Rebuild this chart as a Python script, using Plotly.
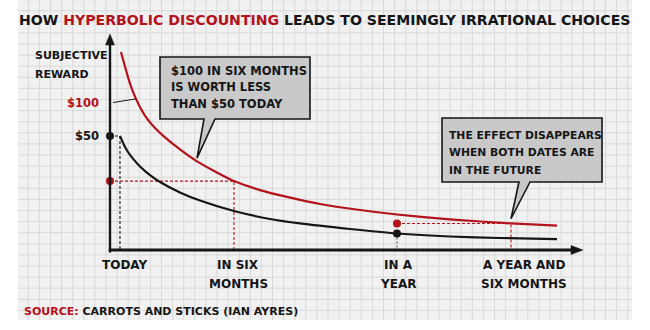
import plotly.graph_objects as go

W, H = 650, 330
FONT = "DejaVu Sans"
RED = "#b3121b"
INK = "#151515"
PAPER = "#f1f1f1"
GRID = "#d9d9d9"
BOX = "#c9c9c9"

# ---- data -------------------------------------------------------------
# time axis (arbitrary units, today near the origin)
tick_labels = [["TODAY"], ["IN SIX", "MONTHS"], ["IN A", "YEAR"], ["A YEAR AND", "SIX MONTHS"]]
tick_x = [2.92, 26.67, 60.0, 86.25]

# moments compared in the example
t_today = 2.08
t_six = 25.83
t_year = 59.79
t_year_six = 83.54

# perceived value of $100, as a function of time
red_t = [2.29, 2.92, 3.75, 4.58, 5.42, 6.46, 7.71, 9.38, 11.46, 14.58, 18.13, 21.88, 25.83,
         31.25, 36.88, 43.75, 52.08, 59.79, 70.83, 83.54, 93.13]
red_v = [92.5, 87.4, 80.8, 75.2, 70.6, 65.9, 61.4, 57.0, 52.6, 47.0, 41.4, 36.7, 32.2,
         28.0, 24.8, 21.5, 18.7, 16.6, 14.3, 12.4, 11.4]

# perceived value of $50, as a function of time
black_t = [2.08, 2.92, 3.75, 5.0, 6.25, 8.33, 10.42, 14.58, 18.75, 25.83,
           33.33, 39.58, 50.0, 59.79, 70.83, 81.25, 93.13]
black_v = [53.3, 49.1, 45.8, 42.1, 39.0, 35.0, 31.8, 26.9, 23.1, 18.2,
           14.5, 12.4, 9.8, 7.7, 6.3, 5.6, 5.1]

# reading points
v50_today = 53.3
v100_six = 32.2
v50_year = 7.7
v100_year_six = 12.4

# reward tick labels
y_tick_vals = [68.7, 53.3]
y_tick_text = ["$100", "$50"]
y_tick_color = [RED, INK]

# ---- geometry helpers -------------------------------------------------
X0, X1 = 110, 620          # plot area, pixels
Y0, Y1 = 30, 250
XR = [0, 106.25]
YR = [0, 102.8]


def pp(px, py):
    """pixel -> paper"""
    return px / W, 1 - py / H


def d2p(t, v):
    """data -> pixel"""
    px = X0 + (t - XR[0]) / (XR[1] - XR[0]) * (X1 - X0)
    py = Y1 - (v - YR[0]) / (YR[1] - YR[0]) * (Y1 - Y0)
    return px, py


def path(points):
    s = ""
    for i, (px, py) in enumerate(points):
        x, y = pp(px, py)
        s += ("M" if i == 0 else "L") + f"{x:.5f},{y:.5f} "
    return s + "Z"


fig = go.Figure()

dash_red = dict(color=RED, width=1.1, dash="3px,2px")
dash_ink = dict(color=INK, width=1.1, dash="3px,2px")
dash_grey = dict(color="#555555", width=1.1, dash="2px,2px")


def seg(xs, ys, line):
    fig.add_trace(go.Scatter(x=xs, y=ys, mode="lines", line=line,
                             showlegend=False, hoverinfo="skip", cliponaxis=False))


# guide lines
seg([0, t_today, t_today], [v50_today, v50_today, 0], dash_ink)
seg([0, t_six, t_six], [v100_six, v100_six, 0], dash_red)
seg([t_year, t_year], [v50_year, 0], dash_grey)
seg([t_year, t_year_six, t_year_six], [v100_year_six, v100_year_six, 0], dash_red)

# curves
fig.add_trace(go.Scatter(x=red_t, y=red_v, mode="lines",
                         line=dict(color=RED, width=2.2, shape="spline", smoothing=0.6),
                         showlegend=False, hoverinfo="skip"))
fig.add_trace(go.Scatter(x=black_t, y=black_v, mode="lines",
                         line=dict(color=INK, width=2.2, shape="spline", smoothing=0.6),
                         showlegend=False, hoverinfo="skip"))

# dots
fig.add_trace(go.Scatter(x=[0, t_year], y=[v50_today, v50_year], mode="markers",
                         marker=dict(color=INK, size=8, line=dict(width=0)), cliponaxis=False,
                         showlegend=False, hoverinfo="skip"))
fig.add_trace(go.Scatter(x=[0, t_year], y=[v100_six, v100_year_six], mode="markers",
                         marker=dict(color=RED, size=8, line=dict(width=0)), cliponaxis=False,
                         showlegend=False, hoverinfo="skip"))

shapes = []
# graph-paper sheet with its square grid
sx0, sy0 = pp(18, 320)
sx1, sy1 = pp(632, 0)
shapes.append(dict(type="rect", xref="paper", yref="paper", x0=sx0, y0=sy0, x1=sx1, y1=sy1,
                   fillcolor=PAPER, line=dict(width=0), layer="below"))
gx = 28.3
while gx < 632:
    a, _ = pp(gx, 0)
    shapes.append(dict(type="line", xref="paper", yref="paper", x0=a, x1=a, y0=sy0, y1=sy1,
                       line=dict(color=GRID, width=1), layer="below"))
    gx += 11.1
gy = 266 - 11.1 * 24
while gy < 320:
    _, b = pp(0, gy)
    shapes.append(dict(type="line", xref="paper", yref="paper", x0=sx0, x1=sx1, y0=b, y1=b,
                       line=dict(color=GRID, width=1), layer="below"))
    gy += 11.1

# axes with arrow heads
ox, oy = d2p(0, 0)
shapes.append(dict(type="path", xref="paper", yref="paper",
                   path=path([(ox - 1.2, oy + 2.5), (ox + 1.2, oy + 2.5), (ox + 1.2, 44), (ox - 1.2, 44)]),
                   fillcolor=INK, line=dict(width=0)))
shapes.append(dict(type="path", xref="paper", yref="paper",
                   path=path([(ox, 34), (ox - 4.5, 45), (ox + 4.5, 45)]),
                   fillcolor=INK, line=dict(color=INK, width=0.5)))
shapes.append(dict(type="path", xref="paper", yref="paper",
                   path=path([(ox - 1.2, oy - 1.4), (573, oy - 1.4), (573, oy + 1.4), (ox - 1.2, oy + 1.4)]),
                   fillcolor=INK, line=dict(width=0)))
shapes.append(dict(type="path", xref="paper", yref="paper",
                   path=path([(583, oy), (571, oy - 4.5), (571, oy + 4.5)]),
                   fillcolor=INK, line=dict(color=INK, width=0.5)))

# leader from the $100 label to the red curve
lx, ly = d2p(red_t[4], red_v[4])
ax0, ay0 = pp(113, 102.5)
ax1, ay1 = pp(lx, ly)
shapes.append(dict(type="line", xref="paper", yref="paper", x0=ax0, y0=ay0, x1=ax1, y1=ay1,
                   line=dict(color=INK, width=1)))

# speech bubbles
tip1 = d2p(red_t[10], red_v[10] + 1.5)
shapes.append(dict(type="path", xref="paper", yref="paper",
                   path=path([(160, 57), (310, 57), (310, 119), (215, 119), tip1, (204, 119), (160, 119)]),
                   fillcolor=BOX, line=dict(color=INK, width=1.6)))
tip2 = d2p(t_year_six, v100_year_six + 2.2)
shapes.append(dict(type="path", xref="paper", yref="paper",
                   path=path([(442, 118), (602, 118), (602, 182), (530, 182), tip2, (519, 182), (442, 182)]),
                   fillcolor=BOX, line=dict(color=INK, width=1.6)))

annotations = []


def text(px, py, s, size=11.5, color=INK, anchor="left"):
    x, y = pp(px, py)
    annotations.append(dict(xref="paper", yref="paper", x=x, y=y, text=s, showarrow=False,
                            xanchor=anchor, yanchor="middle",
                            font=dict(family=FONT, size=size, color=color, weight="bold")))


# title
text(324, 20, f"HOW <span style='color:{RED}'>HYPERBOLIC DISCOUNTING</span> "
              "LEADS TO SEEMINGLY IRRATIONAL CHOICES", size=14.1, anchor="center")

# axis titles and tick labels
text(33, 56, "SUBJECTIVE", size=11)
text(33, 74, "REWARD", size=11)
for v, s, c in zip(y_tick_vals, y_tick_text, y_tick_color):
    _, py = d2p(0, v)
    text(101, py, s, size=11.5, color=c, anchor="right")
for tx, lines in zip(tick_x, tick_labels):
    px, _ = d2p(tx, 0)
    for i, s in enumerate(lines):
        text(px, 265 + 19 * i, s, size=12, anchor="center")

# bubble texts
for i, s in enumerate(["$100 IN SIX MONTHS", "IS WORTH LESS", "THAN $50 TODAY"]):
    text(169, 70.7 + 16.7 * i, s, size=11.5)
for i, s in enumerate(["THE EFFECT DISAPPEARS", "WHEN BOTH DATES ARE", "IN THE FUTURE"]):
    text(447, 135 + 17.5 * i, s, size=10.8)

# source line
text(22, 311, f"<span style='color:{RED}'>SOURCE:</span> CARROTS AND STICKS (IAN AYRES)", size=11)

fig.update_layout(
    width=W, height=H, autosize=False,
    margin=dict(l=0, r=0, t=0, b=0, pad=0),
    paper_bgcolor="white", plot_bgcolor="rgba(0,0,0,0)",
    showlegend=False,
    xaxis=dict(domain=[X0 / W, X1 / W], range=XR, visible=False, fixedrange=True),
    yaxis=dict(domain=[1 - Y1 / H, 1 - Y0 / H], range=YR, visible=False, fixedrange=True),
    shapes=shapes,
    annotations=annotations,
)

fig.write_html("out.html", config={"displayModeBar": False})
